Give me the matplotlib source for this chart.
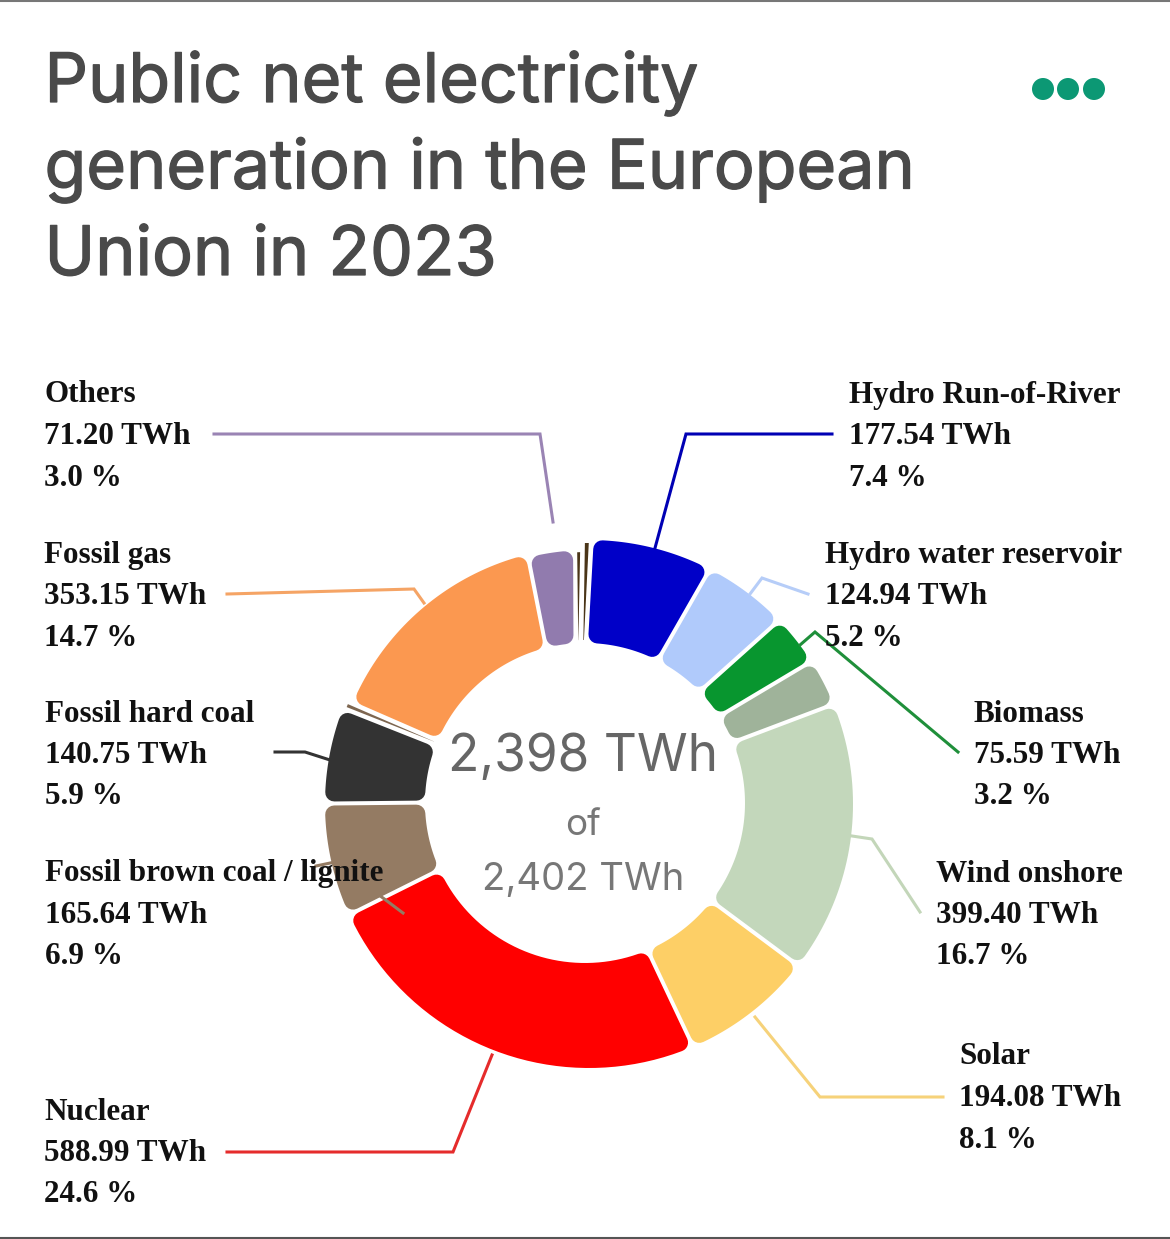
import numpy as np
import matplotlib
matplotlib.use('Agg')
import matplotlib.pyplot as plt
from matplotlib.patches import Polygon, Circle
import matplotlib.patheffects as pe

# clockwise from the top
sources = ['Hydro Run-of-River', 'Hydro water reservoir', 'Biomass', 'Wind offshore',
           'Wind onshore', 'Solar', 'Nuclear', 'Fossil brown coal / lignite',
           'Fossil hard coal', 'Fossil oil', 'Fossil gas', 'Others', 'Waste', 'Geothermal']
twh = [177.54, 124.94, 75.59, 70.0, 399.40, 194.08, 588.99, 165.64, 140.75, 12.0, 353.15, 71.20, 12.0, 13.0]
colors = ['#0000c8', '#b0cafb', '#08962f', '#9fb39a', '#c3d7bb', '#fdcf66', '#ff0000', '#947b63',
          '#333333', '#7d6650', '#fb9850', '#917bae', '#4a3518', '#4a3518']
# the ring is a little flatter on the upper left in the reference
radius_trim = [0, 0, 0, 0, 0, 0, 0, 0, 0, 0, 7, 10, 9, 0]

title_lines = ['Public net electricity', 'generation in the European', 'Union in 2023']
center_lines = ['2,398 TWh', 'of', '2,402 TWh']

labels = [
    ('Others', '71.20 TWh', '3.0 %'),
    ('Fossil gas', '353.15 TWh', '14.7 %'),
    ('Fossil hard coal', '140.75 TWh', '5.9 %'),
    ('Fossil brown coal / lignite', '165.64 TWh', '6.9 %'),
    ('Nuclear', '588.99 TWh', '24.6 %'),
    ('Hydro Run-of-River', '177.54 TWh', '7.4 %'),
    ('Hydro water reservoir', '124.94 TWh', '5.2 %'),
    ('Biomass', '75.59 TWh', '3.2 %'),
    ('Wind onshore', '399.40 TWh', '16.7 %'),
    ('Solar', '194.08 TWh', '8.1 %'),
]
label_x = [44, 44, 45, 45, 44, 849, 825, 974, 936, 959]
label_y = [402.5, 562.5, 721.5, 881.5, 1119.5, 402.5, 562.5, 721.5, 881.5, 1064.5]

leaders = [
    ([214, 540, 553], [434, 434, 522], '#9a84b4'),
    ([227, 414, 424], [594, 589, 603], '#f5a465'),
    ([275, 305, 330], [752, 752, 760], '#333333'),
    ([316, 335, 403], [866, 862, 913], '#947b63'),
    ([227, 453, 492], [1152, 1152, 1055], '#e52b2b'),
    ([832, 686, 655], [434, 434, 548], '#0000b4'),
    ([808, 762, 750], [594, 578, 594], '#b6cdf8'),
    ([958, 815, 800], [752, 632, 645], '#1f8f3a'),
    ([920, 872, 852], [912, 839, 836], '#c3d6b9'),
    ([943, 820, 755], [1097, 1097, 1017], '#f6d27a'),
]

cx, cy = 589, 804
hole_cx, hole_cy = 585, 803
r_out, r_in = 264, 160
gap = 2.0
corner = 9
start = 0.5


def arc(x0, y0, r, a, b, off, n=40):
    # angles clockwise from the top, the offset keeps the gaps parallel
    t1 = a + np.degrees(np.arcsin(off / r))
    t2 = b - np.degrees(np.arcsin(off / r))
    t = np.radians(np.linspace(t1, t2, n))
    return np.column_stack([x0 + r * np.sin(t), y0 - r * np.cos(t)])


fig = plt.figure(figsize=(11.7, 12.39), dpi=100)
ax = fig.add_axes([0, 0, 1, 1])
ax.set_xlim(0, 1170)
ax.set_ylim(1239, 0)
ax.axis('off')

ax.plot([0, 1170], [0.5, 0.5], color='#777777', lw=1.5)
ax.plot([0, 1170], [1237.5, 1237.5], color='#555555', lw=1.5)

angles = np.array(twh) / sum(twh) * 360
ends = start + np.cumsum(angles)
starts = ends - angles
for a, b, c, val, trim in zip(starts, ends, colors, twh, radius_trim):
    r = r_out - trim
    if val < 20:
        # slivers are too narrow for rounded corners
        pts = np.vstack([arc(cx, cy, r - 3, a, b, gap + 0.5),
                         arc(hole_cx, hole_cy, r_in + 3, a, b, gap + 0.5)[::-1]])
        ax.add_patch(Polygon(pts, closed=True, fc=c, ec='none', zorder=2))
    else:
        off = gap + corner
        pts = np.vstack([arc(cx, cy, r - corner, a, b, off),
                         arc(hole_cx, hole_cy, r_in + corner, a, b, off)[::-1]])
        ax.add_patch(Polygon(pts, closed=True, fc=c, ec=c, lw=corner * 2 * 0.72,
                             joinstyle='round', zorder=2))

for xs, ys, c in leaders:
    ax.plot(xs, ys, color=c, lw=2.2, solid_joinstyle='miter', zorder=3)

for i, line in enumerate(title_lines):
    ax.text(44.5, 102 + i * 86.5, line, fontsize=49.1, family='Inter', color='#4a4a4a', va='baseline',
            path_effects=[pe.withStroke(linewidth=0.9, foreground='#4a4a4a')])

for x in [1043, 1068, 1094]:
    ax.add_patch(Circle((x, 89), 11, fc='#0c9874', ec='none'))

center_y = [771, 835, 890]
center_size = [37, 26.5, 27.5]
center_color = ['#666666', '#777777', '#777777']
for line, y, s, c in zip(center_lines, center_y, center_size, center_color):
    ax.text(583, y, line, fontsize=s, family='Inter', color=c, ha='center', va='baseline', zorder=4)

for lab, x, y in zip(labels, label_x, label_y):
    for i, line in enumerate(lab):
        ax.text(x, y + i * 41.5, line, fontsize=22.4, family='Liberation Serif', weight='bold',
                color='#111111', va='baseline', zorder=5)

fig.savefig('out.png', dpi=100)
